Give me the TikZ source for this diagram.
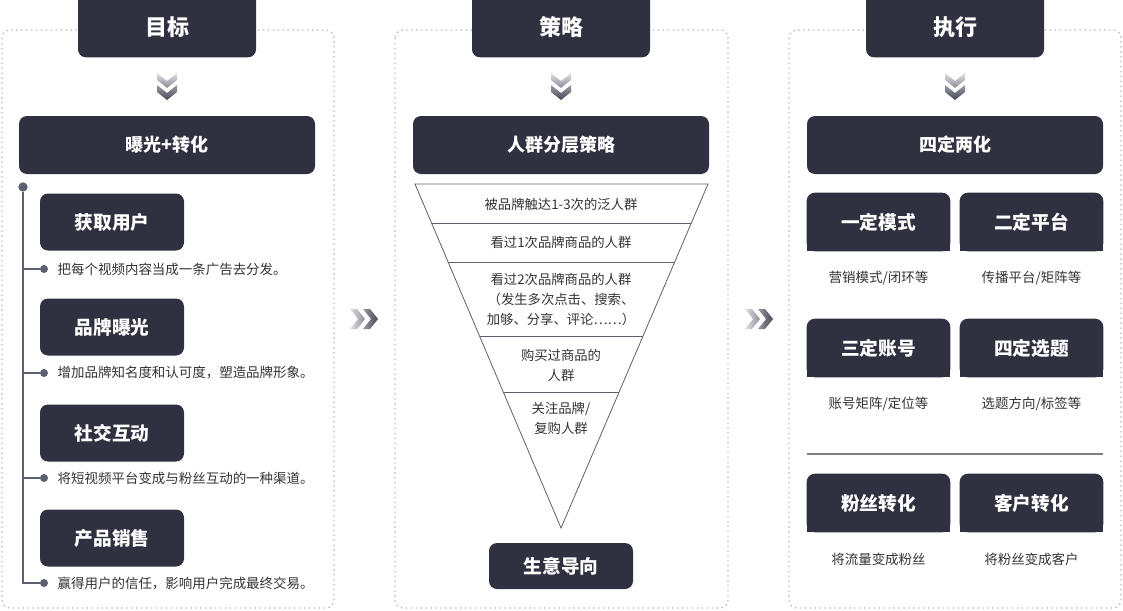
\documentclass[tikz,border=0pt]{standalone}
\usepackage{fontspec}
\setmainfont{Noto Sans CJK SC}
\usetikzlibrary{positioning}
\usetikzlibrary{calc,backgrounds}
\definecolor{boxdark}{RGB}{48,49,64}
\definecolor{linegray}{RGB}{92,95,112}
\definecolor{dotgray}{RGB}{185,185,192}
\definecolor{txtgray}{RGB}{51,51,51}
\definecolor{chevlight}{RGB}{225,225,230}
\definecolor{chevdark}{RGB}{70,71,86}

\tikzset{
  panel/.style={draw=dotgray,line width=1pt,dash pattern=on 1.1pt off 2.6pt,rounded corners=6pt},
  headbox/.style={fill=boxdark,rounded corners=6pt,text=white,font=\bfseries\fontsize{16.5}{19}\selectfont,minimum width=133.5pt,minimum height=50pt,text height=20pt,text depth=2pt},
  mainbox/.style={fill=boxdark,rounded corners=6pt,text=white,font=\bfseries\fontsize{13.5}{16}\selectfont,minimum width=222pt,minimum height=43.5pt},
  subbox/.style={fill=boxdark,rounded corners=6pt,text=white,font=\bfseries\fontsize{14}{17}\selectfont,minimum width=108pt,minimum height=42.75pt},
  cardbox/.style={text=white,font=\bfseries\fontsize{14}{17}\selectfont,minimum width=107.25pt,minimum height=43.5pt},
  desc/.style={text=txtgray,font=\fontsize{10.1}{12}\selectfont},
  ftext/.style={text=txtgray,font=\fontsize{10}{15}\selectfont,align=center},
  tdot/.style={circle,fill=linegray,inner sep=0pt,minimum size=7pt},
  tline/.style={draw=linegray,line width=0.9pt},
  dchev/.pic={\shade[top color=chevlight,bottom color=chevdark]
    (-10,0) -- (0,8) -- (10,0) -- (10,7) -- (0,15) -- (-10,7) -- cycle
    (-10,12) -- (0,20) -- (10,12) -- (10,19) -- (0,27) -- (-10,19) -- cycle;},
  rchev/.pic={\shade[left color=chevlight,right color=chevdark]
    (0,-10) -- (7,-10) -- (15,0) -- (7,10) -- (0,10) -- (8,0) -- cycle
    (13,-10) -- (20,-10) -- (28,0) -- (20,10) -- (13,10) -- (21,0) -- cycle;}
}

\begin{document}
\begin{tikzpicture}[x=0.75pt,y=-0.75pt]
\useasboundingbox (0,0) rectangle (1123,610);
\clip (0,0) rectangle (1123,610);

% three dotted panels
\draw[panel] (2,30) rectangle (334,608);
\draw[panel] (395,30) rectangle (728,608);
\draw[panel] (789,30) rectangle (1121,608);

\node[headbox] (goal) at (167,24) {目标};
\node[headbox] (plan) at (561,24) {策略};
\node[headbox] (exec) at (955,24) {执行};

\pic at (167,73) {dchev};
\pic at (561,73) {dchev};
\pic at (955,73) {dchev};
\pic at (350,319) {rchev};
\pic at (745,319) {rchev};

\node[mainbox] (expo) at (167,145) {曝光+转化};
\node[mainbox] (crowd) at (561,145) {人群分层策略};
\node[mainbox] (four) at (955,145) {四定两化};

% left column
\node[subbox] (user) at (112,222) {获取用户};
\node[subbox] (brand) at (112,327) {品牌曝光};
\node[subbox] (social) at (112,433) {社交互动};
\node[subbox] (sale) at (112,538) {产品销售};

\node[tdot] (t0) at (23,187) {};
\node[tdot,minimum size=6pt] (d1) at (44,269) {};
\node[tdot,minimum size=6pt] (d2) at (44,373) {};
\node[tdot,minimum size=6pt] (d3) at (44,478) {};
\node[tdot,minimum size=6pt] (d4) at (44,583) {};
\draw[tline] (t0) |- (d4);
\draw[tline] (t0 |- d1) -- (d1);
\draw[tline] (t0 |- d2) -- (d2);
\draw[tline] (t0 |- d3) -- (d3);

\node[desc,anchor=west] (u1) at (53,269) {把每个视频内容当成一条广告去分发。};
\node[desc,anchor=west] (b1) at (53,373) {增加品牌知名度和认可度，塑造品牌形象。};
\node[desc,anchor=west] (s1) at (53,478) {将短视频平台变成与粉丝互动的一种渠道。};
\node[desc,anchor=west] (p1) at (53,583) {赢得用户的信任，影响用户完成最终交易。};

% funnel
\coordinate (ftl) at (415,184);
\coordinate (ftr) at (708,184);
\coordinate (fap) at (561,528);
\draw[linegray,line width=0.6pt] (ftl) -- (ftr) -- (fap) -- cycle;
\foreach \t in {0.1134,0.2267,0.4419,0.6047}
  \draw[linegray,line width=0.6pt] ($(ftl)!\t!(fap)$) -- ($(ftr)!\t!(fap)$);
\node[ftext] (f1) at (561,204) {被品牌触达1-3次的泛人群};
\node[ftext] (f2) at (561,242) {看过1次品牌商品的人群};
\node[ftext] (f3) at (561,300) {看过2次品牌商品的人群\\（发生多次点击、搜索、\\加够、分享、评论……）};
\node[ftext] (f4) at (561,365) {购买过商品的\\人群};
\node[ftext] (f5) at (561,418) {关注品牌/\\复购人群};
\node[subbox,minimum height=34.5pt] (biz) at (561,566) {生意导向};

% right column
\node[cardbox] (c1) at (878.5,222) {一定模式};
\node[cardbox] (c2) at (1031.5,222) {二定平台};
\node[cardbox] (c3) at (878.5,348) {三定账号};
\node[cardbox] (c4) at (1031.5,348) {四定选题};
\node[cardbox] (c5) at (878.5,503) {粉丝转化};
\node[cardbox] (c6) at (1031.5,503) {客户转化};
\begin{scope}[on background layer]
\foreach \c in {c1,c2,c3,c4,c5,c6}{
  \fill[boxdark,rounded corners=6pt] (\c.south west) rectangle (\c.north east);
  \fill[boxdark] (\c.south west) rectangle (\c.east);}
\end{scope}

\node[desc] (e1) at (878.5,278) {营销模式/闭环等};
\node[desc] (e2) at (1031.5,278) {传播平台/矩阵等};
\node[desc] (e3) at (878.5,404) {账号矩阵/定位等};
\node[desc] (e4) at (1031.5,404) {选题方向/标签等};
\node[desc] (e5) at (878.5,559) {将流量变成粉丝};
\node[desc] (e6) at (1031.5,559) {将粉丝变成客户};

\draw[gray,line width=1.2pt] (807,454) -- (1103,454);

\end{tikzpicture}
\end{document}
